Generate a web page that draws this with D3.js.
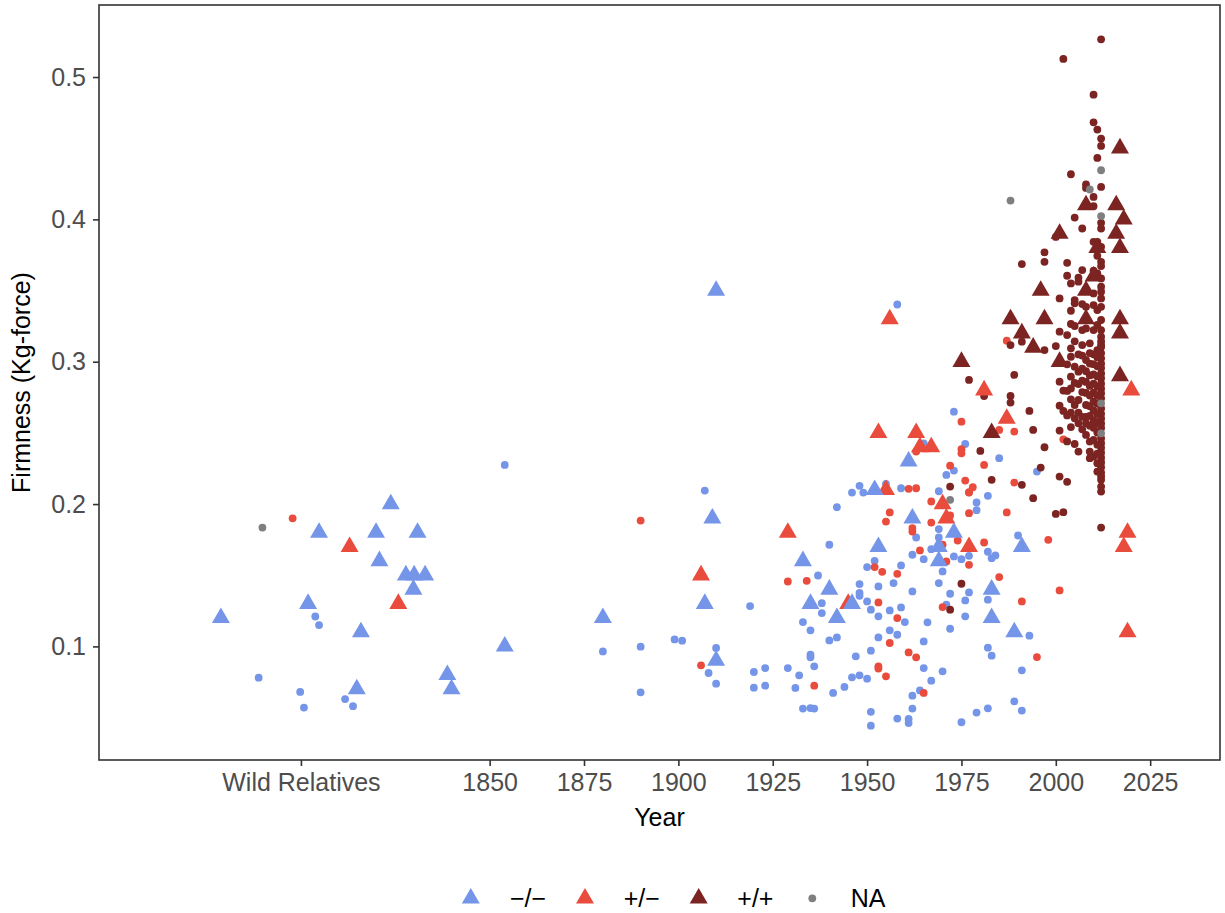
<!DOCTYPE html>
<html>
<head>
<meta charset="utf-8">
<script src="https://cdn.jsdelivr.net/npm/d3@7"></script>
<style>
  html, body { margin: 0; padding: 0; background: #ffffff; }
  svg { display: block; font-family: "Liberation Sans", Arial, Helvetica, sans-serif; }
</style>
</head>
<body>
<svg id="chart" width="1225" height="913"></svg>
<script>
// ---- Categories and tick labels ----
const genotypeLabels = ["\u2212/\u2212", "+/\u2212", "+/+", "NA"];
const genotypeColors = ["#7595E8", "#E94B3C", "#7B2422", "#7F7F7F"];
const xTickYears = [1800, 1850, 1875, 1900, 1925, 1950, 1975, 2000, 2025];
const xTickLabels = ["Wild Relatives", "1850", "1875", "1900", "1925", "1950", "1975", "2000", "2025"];
const yTickValues = [0.1, 0.2, 0.3, 0.4, 0.5];
const xLimits = [1760, 2030];

// ---- Firmness by release year: triangles (one panel of accessions) ----
// Wild relatives are spread around the "Wild Relatives" position.
const triMinusMinus = [
  [1778.8, 0.12], [1801.9, 0.13], [1804.8, 0.18], [1814.8, 0.07], [1815.9, 0.11],
  [1819.9, 0.18], [1820.8, 0.16], [1823.8, 0.20], [1827.8, 0.15], [1829.8, 0.14],
  [1830.0, 0.15], [1830.9, 0.18], [1832.9, 0.15], [1838.8, 0.08], [1839.9, 0.07],
  [1854, 0.10], [1880, 0.12], [1907, 0.13], [1909, 0.19], [1910, 0.35], [1910, 0.09],
  [1933, 0.16], [1935, 0.13], [1940, 0.14], [1942, 0.12], [1946, 0.13], [1952, 0.21],
  [1953, 0.17], [1961, 0.23], [1962, 0.19], [1969, 0.17], [1969, 0.16], [1973, 0.18],
  [1983, 0.14], [1983, 0.12], [1989, 0.11], [1991, 0.17]
];
const triPlusMinus = [
  [1812.9, 0.17], [1825.8, 0.13], [1906, 0.15], [1929, 0.18], [1945, 0.13], [1953, 0.25],
  [1955, 0.21], [1956, 0.33], [1963, 0.25], [1964, 0.24], [1967, 0.24], [1970, 0.20],
  [1971, 0.19], [1977, 0.17], [1981, 0.28], [1987, 0.26], [2018, 0.17], [2019, 0.18],
  [2019, 0.11], [2020, 0.28]
];
const triPlusPlus = [
  [1975, 0.30], [1983, 0.25], [1988, 0.33], [1991, 0.32], [1994, 0.31], [1996, 0.35],
  [1997, 0.33], [2001, 0.39], [2001, 0.30], [2008, 0.41], [2008, 0.35], [2008, 0.33],
  [2010, 0.36], [2011, 0.38], [2016, 0.41], [2016, 0.39], [2017, 0.45], [2017, 0.38],
  [2017, 0.33], [2017, 0.32], [2017, 0.29], [2018, 0.40]
];

// ---- Firmness by release year: dots ----
const dotMinusMinus = [
  [1788.8, 0.078], [1799.8, 0.068], [1800.8, 0.057], [1803.8, 0.121], [1804.8, 0.115],
  [1811.7, 0.063], [1813.8, 0.058],
  [1854, 0.2275], [1907, 0.2095], [1919, 0.1283], [1880, 0.0965], [1890, 0.0998],
  [1899, 0.1049], [1901, 0.1040], [1910, 0.0989], [1908, 0.0813], [1910, 0.0738],
  [1920, 0.0820], [1923, 0.0848], [1920, 0.0710], [1923, 0.0724], [1890, 0.0677],
  [1958, 0.3402], [1973, 0.2649], [1965, 0.2427], [1976, 0.2422], [1971, 0.2205],
  [1973, 0.2235], [1946, 0.2081], [1948, 0.2128], [1949, 0.2081], [1955, 0.2142],
  [1959, 0.2111], [1969, 0.2090], [1942, 0.1978], [1969, 0.1824], [1963, 0.1765],
  [1969, 0.1765], [1967, 0.1683], [1940, 0.1714], [1962, 0.1644], [1965, 0.1613],
  [1973, 0.1632], [1975, 0.1613], [1977, 0.1636], [1970, 0.1527], [1952, 0.1601],
  [1950, 0.1557], [1959, 0.1569], [1937, 0.1498], [1957, 0.1445], [1948, 0.1438],
  [1953, 0.1421], [1962, 0.1386], [1969, 0.1445], [1948, 0.1375], [1948, 0.1356],
  [1972, 0.1370], [1938, 0.1304], [1950, 0.1316], [1971, 0.1293], [1976, 0.1323],
  [1938, 0.1234], [1951, 0.1258], [1956, 0.1253], [1959, 0.1274], [1953, 0.1211],
  [1976, 0.1211], [1960, 0.1171], [1933, 0.1171], [1966, 0.1169], [1935, 0.1113],
  [1972, 0.1124], [1956, 0.1113], [1958, 0.1082], [1940, 0.1042], [1942, 0.1063],
  [1953, 0.1063], [1965, 0.1035], [1935, 0.0942], [1935, 0.0923], [1947, 0.0930],
  [1951, 0.0970], [1929, 0.0848], [1936, 0.0860], [1932, 0.0797], [1965, 0.0848],
  [1970, 0.0825], [1946, 0.0783], [1948, 0.0797], [1950, 0.0773], [1967, 0.0759],
  [1931, 0.0708], [1944, 0.0715], [1941, 0.0673], [1964, 0.0691], [1962, 0.0654],
  [1962, 0.0563], [1933, 0.0563], [1935, 0.0567], [1936, 0.0563], [1951, 0.0540],
  [1951, 0.0443], [1958, 0.0493], [1961, 0.0490], [1961, 0.0462], [1975, 0.0467],
  [1990, 0.1779], [1982, 0.1665], [1983, 0.1620], [1984, 0.1639], [1977, 0.1379],
  [1982, 0.1328], [1993, 0.1075], [1982, 0.0991], [1983, 0.0935], [1991, 0.0832],
  [1989, 0.0614], [1991, 0.0549], [1982, 0.0565], [1979, 0.0535], [1985, 0.2322],
  [1995, 0.2228], [1982, 0.2058], [1979, 0.2011], [1979, 0.1957]
];
const dotPlusMinus = [
  [1797.8, 0.190], [1890, 0.1884], [1906, 0.0867],
  [1975, 0.2579], [1975, 0.2385], [1975, 0.2357], [1963, 0.2369], [1972, 0.2270],
  [1976, 0.2165], [1961, 0.2107], [1963, 0.2111], [1977, 0.2083], [1967, 0.2018],
  [1956, 0.1941], [1955, 0.1877], [1972, 0.1920], [1967, 0.1870], [1977, 0.1936],
  [1962, 0.1831], [1962, 0.1807], [1974, 0.1744], [1970, 0.1714], [1964, 0.1674],
  [1971, 0.1597], [1977, 0.1573], [1952, 0.1557], [1954, 0.1524], [1958, 0.1510],
  [1929, 0.1456], [1934, 0.1461], [1953, 0.1309], [1970, 0.1276], [1958, 0.1199],
  [1956, 0.1024], [1961, 0.0958], [1963, 0.0923], [1953, 0.0860], [1953, 0.0844],
  [1955, 0.0790], [1936, 0.0724], [1965, 0.0673],
  [1981, 0.1730], [1998, 0.1749], [1985, 0.1487], [1991, 0.1316], [2001, 0.1393],
  [1995, 0.0925], [1985, 0.2521], [1989, 0.2509], [1981, 0.2275], [1978, 0.2118],
  [1977, 0.2081], [1989, 0.2151], [1987, 0.1941], [2002, 0.2455], [1987, 0.3148]
];
const dotPlusPlus = [
  [1972, 0.2123], [1975, 0.1440], [1972, 0.1258], [1977, 0.2872],
  [1981, 0.2759], [1989, 0.2907], [1988, 0.2759], [1988, 0.2713], [1993, 0.2654],
  [1994, 0.2521], [1980, 0.2373], [1997, 0.2399], [1996, 0.2256], [1983, 0.2170],
  [1991, 0.2135], [1994, 0.2041], [2000, 0.1931], [2002, 0.1943], [2001, 0.2193],
  [2003, 0.2156], [2012, 0.1835], [2001, 0.2516],
  [2012, 0.5265], [2002, 0.5127], [2010, 0.4876], [2010, 0.4682], [2011, 0.4631],
  [2012, 0.4568], [2012, 0.4516], [2011, 0.4432], [2004, 0.4317], [2008, 0.4245],
  [2008, 0.4221], [2012, 0.4228], [2010, 0.4158], [2010, 0.4093], [2005, 0.4013],
  [2012, 0.3976], [2012, 0.3936], [2007, 0.3936], [2000, 0.3877], [2010, 0.3842],
  [2011, 0.3842], [2012, 0.3807], [1997, 0.3768], [2011, 0.3744], [2012, 0.3702],
  [2012, 0.3672], [1991, 0.3686], [1997, 0.3702], [2003, 0.3695], [2007, 0.3644],
  [2010, 0.3639], [2011, 0.3620], [2003, 0.3604], [2006, 0.3590], [2006, 0.3562],
  [2004, 0.3550], [2012, 0.3585], [2012, 0.3527], [2010, 0.3480], [2012, 0.3492],
  [2001, 0.3445], [2005, 0.3433], [2005, 0.3410], [2007, 0.3405], [2008, 0.3386],
  [2010, 0.3398], [2011, 0.3363], [2012, 0.3445], [2012, 0.3386], [2004, 0.3358],
  [2004, 0.3265], [2005, 0.3251], [2001, 0.3211], [2003, 0.3187], [2007, 0.3222],
  [2008, 0.3234], [2010, 0.3222], [2011, 0.3258], [2012, 0.3293], [2012, 0.3222],
  [2012, 0.3176], [1991, 0.3141], [1988, 0.3117], [1997, 0.3082], [2000, 0.3110],
  [2004, 0.3094], [2007, 0.3117], [2009, 0.3129], [2011, 0.3082], [2012, 0.3117],
  [2004, 0.3035], [2005, 0.2965], [2006, 0.2930], [2004, 0.2895], [2001, 0.2860],
  [2002, 0.2797], [2001, 0.2691], [2002, 0.2654], [2004, 0.2642], [2006, 0.2642],
  [2005, 0.2696], [2008, 0.2696], [2004, 0.2736], [2006, 0.2731], [2003, 0.2440],
  [2005, 0.2422], [2006, 0.2369], [2007, 0.2525], [2008, 0.2486], [2009, 0.2439],
  [2009, 0.2369], [2010, 0.2450], [2010, 0.2334], [2009, 0.2322], [2011, 0.2228],
  [2012, 0.2170], [2012, 0.2123], [2012, 0.2088],
  [2012, 0.3142], [2012, 0.3103], [2012, 0.3061], [2012, 0.3024], [2012, 0.2987],
  [2012, 0.2955], [2012, 0.2918], [2012, 0.2884], [2012, 0.2846], [2012, 0.2811],
  [2012, 0.2779], [2012, 0.2743], [2012, 0.2672], [2012, 0.2634], [2012, 0.2601],
  [2012, 0.2566], [2012, 0.2535], [2012, 0.2462], [2012, 0.2428], [2012, 0.2395],
  [2012, 0.2361], [2012, 0.2326], [2012, 0.2292], [2012, 0.2259], [2012, 0.2221],
  [2012, 0.2195],
  [2011, 0.3031], [2011, 0.2968], [2011, 0.2897], [2011, 0.2826], [2011, 0.2764],
  [2011, 0.2705], [2011, 0.2633], [2011, 0.2571], [2011, 0.2502], [2011, 0.2417],
  [2011, 0.2355], [2011, 0.2287],
  [2010, 0.3052], [2010, 0.2983], [2010, 0.2911], [2010, 0.2846], [2010, 0.2782],
  [2010, 0.2720], [2010, 0.2658], [2010, 0.2590], [2010, 0.2536],
  [2009, 0.3061], [2009, 0.2987], [2009, 0.2904], [2009, 0.2830], [2009, 0.2762],
  [2009, 0.2688], [2009, 0.2619], [2009, 0.2551],
  [2008, 0.3012], [2008, 0.2933], [2008, 0.2858], [2008, 0.2781], [2008, 0.2612],
  [2008, 0.2568],
  [2007, 0.3043], [2007, 0.2952], [2007, 0.2867], [2007, 0.2787], [2007, 0.2612],
  [2006, 0.3051], [2006, 0.2843], [2006, 0.2567],
  [2005, 0.3143], [2005, 0.2851], [2005, 0.2602],
  [2004, 0.2812], [2004, 0.2541],
  [2003, 0.2982], [2003, 0.2795], [2003, 0.2623]
];
const dotNA = [
  [1789.8, 0.1835], [2012, 0.4345], [2009, 0.4210], [1988, 0.4132], [2012, 0.4023],
  [1972, 0.2030], [2012, 0.2708], [2012, 0.2497]
];

// ---- Layout ----
const panel = { left: 99, right: 1220, top: 5, bottom: 760 };
const ink = "#333333";
const tickText = "#4D4D4D";
const fontTick = 25;
const fontTitle = 25;

const svg = d3.select("#chart");

// x: fixed limits with 5% expansion; y: data range with 5% expansion
const xPad = (xLimits[1] - xLimits[0]) * 0.05;
const x = d3.scaleLinear()
  .domain([xLimits[0] - xPad, xLimits[1] + xPad])
  .range([panel.left, panel.right]);

const allSeries = [triMinusMinus, triPlusMinus, triPlusPlus, dotMinusMinus, dotPlusMinus, dotPlusPlus, dotNA];
const [yMin, yMax] = d3.extent(allSeries.flat(), d => d[1]);
const yPad = (yMax - yMin) * 0.05;
const y = d3.scaleLinear()
  .domain([yMin - yPad, yMax + yPad])
  .range([panel.bottom, panel.top]);

const color = d3.scaleOrdinal().domain(genotypeLabels).range(genotypeColors);

// panel background
svg.append("rect")
  .attr("x", panel.left).attr("y", panel.top)
  .attr("width", panel.right - panel.left).attr("height", panel.bottom - panel.top)
  .attr("fill", "#ffffff");

const plot = svg.append("g");

// dots
const dotRadius = 3.9;
[[dotMinusMinus, 0], [dotPlusMinus, 1], [dotPlusPlus, 2], [dotNA, 3]].forEach(([series, k]) => {
  plot.append("g")
    .selectAll("circle")
    .data(series)
    .join("circle")
    .attr("cx", d => x(d[0]))
    .attr("cy", d => y(d[1]))
    .attr("r", dotRadius)
    .attr("fill", color(genotypeLabels[k]));
});

// triangles
const triangle = d3.symbol().type(d3.symbolTriangle).size(140);
[[triPlusPlus, 2], [triPlusMinus, 1], [triMinusMinus, 0]].forEach(([series, k]) => {
  plot.append("g")
    .selectAll("path")
    .data(series)
    .join("path")
    .attr("d", triangle)
    .attr("transform", d => `translate(${x(d[0])},${y(d[1])})`)
    .attr("fill", color(genotypeLabels[k]));
});

// panel border
svg.append("rect")
  .attr("x", panel.left).attr("y", panel.top)
  .attr("width", panel.right - panel.left).attr("height", panel.bottom - panel.top)
  .attr("fill", "none").attr("stroke", ink).attr("stroke-width", 1.6);

// axes
const xAxis = d3.axisBottom(x)
  .tickValues(xTickYears)
  .tickFormat((d, i) => xTickLabels[i])
  .tickSize(6).tickPadding(7);
const gx = svg.append("g").attr("transform", `translate(0,${panel.bottom})`).call(xAxis);

const yAxis = d3.axisLeft(y)
  .tickValues(yTickValues)
  .tickFormat(d3.format(".1f"))
  .tickSize(6).tickPadding(7);
const gy = svg.append("g").attr("transform", `translate(${panel.left},0)`).call(yAxis);

[gx, gy].forEach(g => {
  g.select(".domain").remove();
  g.selectAll(".tick line").attr("stroke", ink).attr("stroke-width", 1.6);
  g.selectAll(".tick text")
    .attr("fill", tickText)
    .style("font-size", fontTick + "px")
    .style("font-family", "'Liberation Sans', Arial, sans-serif");
});

// axis titles
svg.append("text")
  .attr("x", (panel.left + panel.right) / 2)
  .attr("y", 826)
  .attr("text-anchor", "middle")
  .style("font-size", fontTitle + "px")
  .attr("fill", "#000")
  .text("Year");

svg.append("text")
  .attr("transform", `translate(30,${(panel.top + panel.bottom) / 2}) rotate(-90)`)
  .attr("text-anchor", "middle")
  .style("font-size", fontTitle + "px")
  .attr("fill", "#000")
  .text("Firmness (Kg-force)");

// legend
const legendKeyX = [470.8, 585, 698.7, 812.3];
const legendTextX = [510, 623.7, 737.3, 850.7];
const legendY = 898.3;
const legend = svg.append("g");
genotypeLabels.forEach((lab, i) => {
  if (lab === "NA") {
    legend.append("circle")
      .attr("cx", legendKeyX[i]).attr("cy", legendY)
      .attr("r", dotRadius).attr("fill", color(lab));
  } else {
    legend.append("path")
      .attr("d", triangle)
      .attr("transform", `translate(${legendKeyX[i]},${legendY})`)
      .attr("fill", color(lab));
  }
  legend.append("text")
    .attr("x", legendTextX[i])
    .attr("y", legendY + 8.8)
    .style("font-size", fontTitle + "px")
    .attr("fill", "#000")
    .text(lab);
});
</script>
</body>
</html>
